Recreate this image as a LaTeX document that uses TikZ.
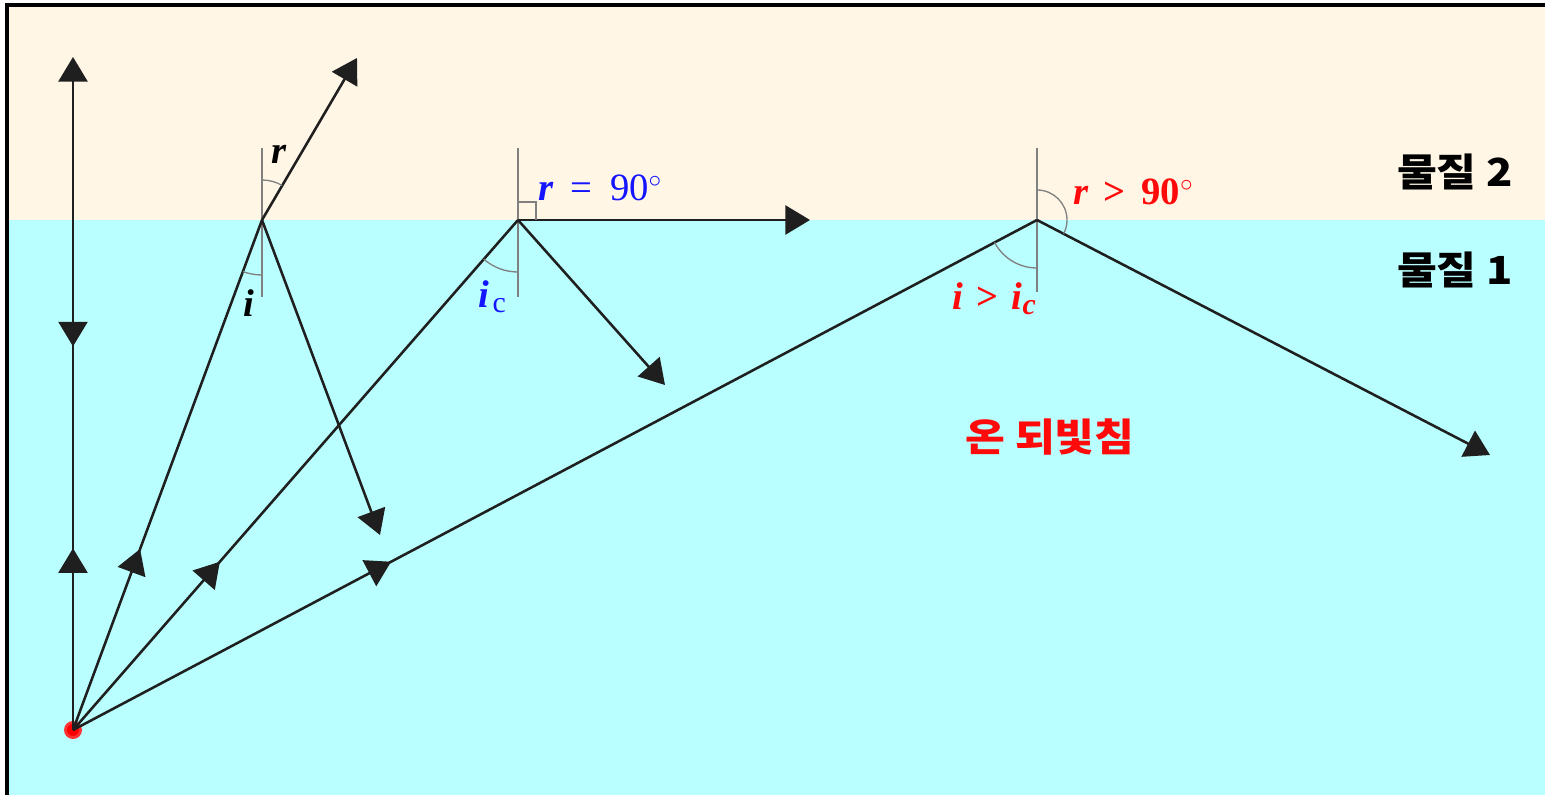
\documentclass[tikz,border=0pt]{standalone}
\usepackage{xcolor}
\definecolor{AirBeige}{HTML}{FFF6E6}
\definecolor{GlassCyan}{HTML}{BAFFFF}
\definecolor{NormGray}{HTML}{808080}
\definecolor{LabBlue}{HTML}{1414FF}
\definecolor{LabRed}{HTML}{FF0A0A}
\usepackage{fontspec}
\setmainfont{Liberation Serif}
\newfontfamily\krfont[FakeStretch=1.12]{Noto Sans CJK KR}
\usepackage{tikz}
\usetikzlibrary{arrows.meta,decorations.markings}

\begin{document}
\begin{tikzpicture}[x=0.2mm,y=-0.2mm,>={Triangle[length=14pt,width=16.5pt]}, ray/.style={draw=black!88,line width=1.45pt}, normline/.style={draw=NormGray,line width=0.9pt}, anglearc/.style={draw=NormGray,line width=0.75pt}, midarrow/.style={postaction={decorate,decoration={markings,mark=at position #1 with {\arrow{>}}}}}, backarrow/.style={postaction={decorate,decoration={markings,mark=at position #1 with {\arrowreversed{>}}}}}, lbl/.style={inner sep=0pt,font=\fontsize{22}{25}\selectfont\bfseries\itshape}, krlbl/.style={inner sep=0pt,font=\krfont\bfseries\fontsize{22}{26}\selectfont}]
\useasboundingbox (0,0) rectangle (1545,795);
% two media
\fill[AirBeige] (7,5) rectangle (1545,220);
\fill[GlassCyan] (7,220) rectangle (1545,795);
\draw[line width=1.8pt] (7,795) -- (7,5) -- (1545,5);
% points
\coordinate (src) at (73,730);
\coordinate (topend) at (73,57);
\coordinate (hitA) at (262,220);
\coordinate (refrA) at (357,58);
\coordinate (reflA) at (380,535);
\coordinate (hitB) at (518,220);
\coordinate (grazeB) at (810,220);
\coordinate (reflB) at (665,385);
\coordinate (hitC) at (1037,220);
\coordinate (reflC) at (1490,455);
\fill[red!80] (src) circle[radius=9];
\fill[red] (src) circle[radius=6];
% normals
\draw[normline] (hitA) ++(0,-72) -- ++(0,149);
\draw[normline] (hitB) ++(0,-72) -- ++(0,149);
\draw[normline] (hitC) ++(0,-72) -- ++(0,144);
% rays
\draw[ray,->,midarrow=0.27,backarrow=0.57] (src) -- (topend);
\draw[ray,midarrow=0.355] (src) -- (hitA);
\draw[ray,->] (hitA) -- (refrA);
\draw[ray,->] (hitA) -- (reflA);
\draw[ray,midarrow=0.33] (src) -- (hitB);
\draw[ray,->] (hitB) -- (grazeB);
\draw[ray,->] (hitB) -- (reflB);
\draw[ray,midarrow=0.33] (src) -- (hitC);
\draw[ray,->] (hitC) -- (reflC);
% angles
\draw[anglearc] ([shift={(-90:40)}]hitA) arc[start angle=-90,end angle=-59.6,radius=40];
\draw[anglearc] ([shift={(90:55)}]hitA) arc[start angle=90,end angle=110.3,radius=55];
\draw[anglearc] ([shift={(90:52)}]hitB) arc[start angle=90,end angle=131.1,radius=52];
\draw[anglearc] ([shift={(0,-18)}]hitB) -- ++(18,0) -- ++(0,18);
\draw[anglearc] ([shift={(90:48)}]hitC) arc[start angle=90,end angle=152.2,radius=48];
\draw[anglearc] ([shift={(-90:30)}]hitC) arc[start angle=-90,end angle=27.2,radius=30];
% labels
\node[lbl] (labR) at (279,154) {r};
\node[lbl] (labI) at (249,303) {i};
\node[lbl,text=LabBlue,anchor=west] (labRB) at (538,188) {r\hspace{0.45em}{\upshape\mdseries =\hspace{0.45em}90$^\circ$}};
\node[lbl,text=LabBlue] (labIB) at (492,297) {i\hspace{0.1em}{\upshape\mdseries\fontsize{17}{19}\selectfont\raisebox{-3pt}{c}}};
\node[lbl,text=LabRed,anchor=west] (labRC) at (1073,192) {r\hspace{0.4em}{\upshape >}\hspace{0.4em}{\upshape 90$^\circ$}};
\node[lbl,text=LabRed] (labIC) at (994,299) {i\hspace{0.35em}{\upshape >}\hspace{0.35em}i\raisebox{-3pt}{\fontsize{17}{19}\selectfont c}};
\node[krlbl] (medTwo) at (1455,172) {물질 2};
\node[krlbl] (medOne) at (1455,270) {물질 1};
\node[krlbl,text=LabRed] (tirLab) at (1050,437) {온 되빛침};
\end{tikzpicture}
\end{document}
